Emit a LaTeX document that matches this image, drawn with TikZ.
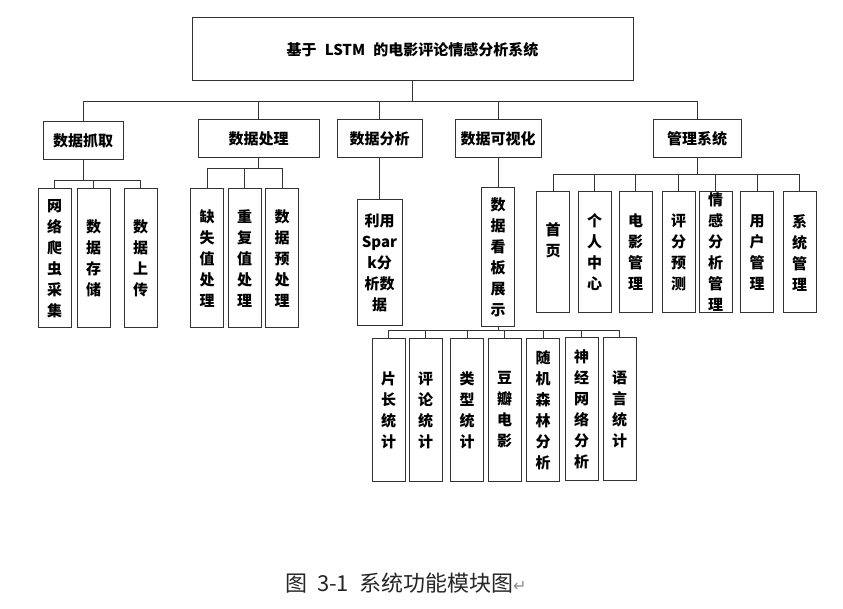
\documentclass[tikz,border=0pt]{standalone}
\usepackage{fontspec}
\setmainfont{Noto Sans CJK SC}
\newfontfamily\symfont{DejaVu Sans}
\begin{document}
\begin{tikzpicture}[x=1pt,y=-1pt,
  box/.style={draw=black!80, line width=1pt, fill=white, inner sep=0pt, align=center,
    font=\bfseries\fontsize{15}{21}\selectfont},
  txt/.style={inner sep=0pt, align=center, font=\bfseries\fontsize{15}{21}\selectfont},
  hbox/.style={box, minimum height=38pt},
  vbox/.style={box, minimum width=33pt},
  link/.style={draw=black!80, line width=1pt}]
\useasboundingbox (0,0) rectangle (843,609);
\fill[white] (0,0) rectangle (843,609);

% bus levels
\coordinate (bus0) at (0,102);
\coordinate (busA) at (0,181);
\coordinate (busB) at (0,169);
\coordinate (busD) at (0,331);
\coordinate (busE) at (0,175);

% root
\node[box, minimum width=441pt, minimum height=63pt] (root) at (412.5,49.5) {基于\hspace{0.55em}LSTM\hspace{0.55em}的电影评论情感分析系统};

% level 2
\node[hbox, minimum width=80pt] (a) at (83,141) {数据抓取};
\node[hbox, minimum width=121pt] (b) at (258.5,139) {数据处理};
\node[hbox, minimum width=85pt] (c) at (379.5,139) {数据分析};
\node[hbox, minimum width=86pt] (d) at (498,139) {数据可视化};
\node[hbox, minimum width=88pt] (e) at (697,139) {管理系统};

% children of a
\node[vbox, minimum height=139pt] (a1) at (54.5,258.5) {网\\络\\爬\\虫\\采\\集};
\node[vbox, minimum height=139pt] (a2) at (93.5,258.5) {数\\据\\存\\储};
\node[vbox, minimum height=139pt] (a3) at (140.5,258.5) {数\\据\\上\\传};

% children of b
\node[vbox, minimum height=139pt] (b1) at (207,258.5) {缺\\失\\值\\处\\理};
\node[vbox, minimum height=139pt] (b2) at (244.5,258.5) {重\\复\\值\\处\\理};
\node[vbox, minimum height=139pt] (b3) at (282,258.5) {数\\据\\预\\处\\理};

% child of c
\node[box, minimum width=45pt, minimum height=126pt] (c1) at (379.5,263) {利用\\Spar\\k分\\析数\\据};

% child of d
\node[vbox, minimum height=139pt] (d1) at (498,257.5) {数\\据\\看\\板\\展\\示};

% children of d1
\node[vbox, minimum height=142pt] (f1) at (388.5,410) {片\\长\\统\\计};
\node[vbox, minimum height=142pt] (f2) at (425.5,410) {评\\论\\统\\计};
\node[vbox, minimum height=142pt] (f3) at (467,410) {类\\型\\统\\计};
\node[vbox, minimum height=142pt] (f4) at (504.5,410) {豆\\瓣\\电\\影};
\node[vbox, minimum height=142pt] (f5) at (543,410) {随\\机\\森\\林\\分\\析};
\node[vbox, minimum height=142pt] (f6) at (581.5,409) {神\\经\\网\\络\\分\\析};
\node[vbox, minimum height=142pt] (f7) at (619.5,409) {语\\言\\统\\计};

% children of e
\node[vbox, minimum height=121pt] (e1) at (553,252.5) {};
\node[txt] (e1t) at (553,240.5) {首\\页};
\node[vbox, minimum height=121pt] (e2) at (594.5,252.5) {个\\人\\中\\心};
\node[vbox, minimum height=121pt] (e3) at (635.5,252.5) {电\\影\\管\\理};
\node[vbox, minimum height=121pt] (e4) at (678.5,252.5) {评\\分\\预\\测};
\node[vbox, minimum height=121pt] (e5) at (715.5,252.5) {情\\感\\分\\析\\管\\理};
\node[vbox, minimum height=121pt] (e6) at (757,252.5) {用\\户\\管\\理};
\node[vbox, minimum height=121pt] (e7) at (799.5,252.5) {系\\统\\管\\理};

% connectors
\foreach \n in {a,b,c,d,e}
  \draw[link] (root.south) -- (root.south |- bus0) -| (\n.north);
\foreach \n in {a1,a2,a3}
  \draw[link] (a.south) -- (a.south |- busA) -| (\n.north);
\foreach \n in {b1,b2,b3}
  \draw[link] (b.south) -- (b.south |- busB) -| (\n.north);
\draw[link] (c.south) -- (c1.north);
\draw[link] (d.south) -- (d1.north);
\foreach \n in {f1,f2,f3,f4,f5,f6,f7}
  \draw[link] (d1.south) -- (d1.south |- busD) -| (\n.north);
\foreach \n in {e1,e2,e3,e4,e5,e6,e7}
  \draw[link] (e.south) -- (e.south |- busE) -| (\n.north);

% caption
\node[inner sep=0pt, anchor=west, text=black!85, font=\fontsize{22}{22}\selectfont] (cap) at (285,583)
  {图\hspace{0.45em}3-1\hspace{0.45em}系统功能模块图{\symfont\fontsize{16}{16}\selectfont\color{black!45}↵}};
\end{tikzpicture}
\end{document}
